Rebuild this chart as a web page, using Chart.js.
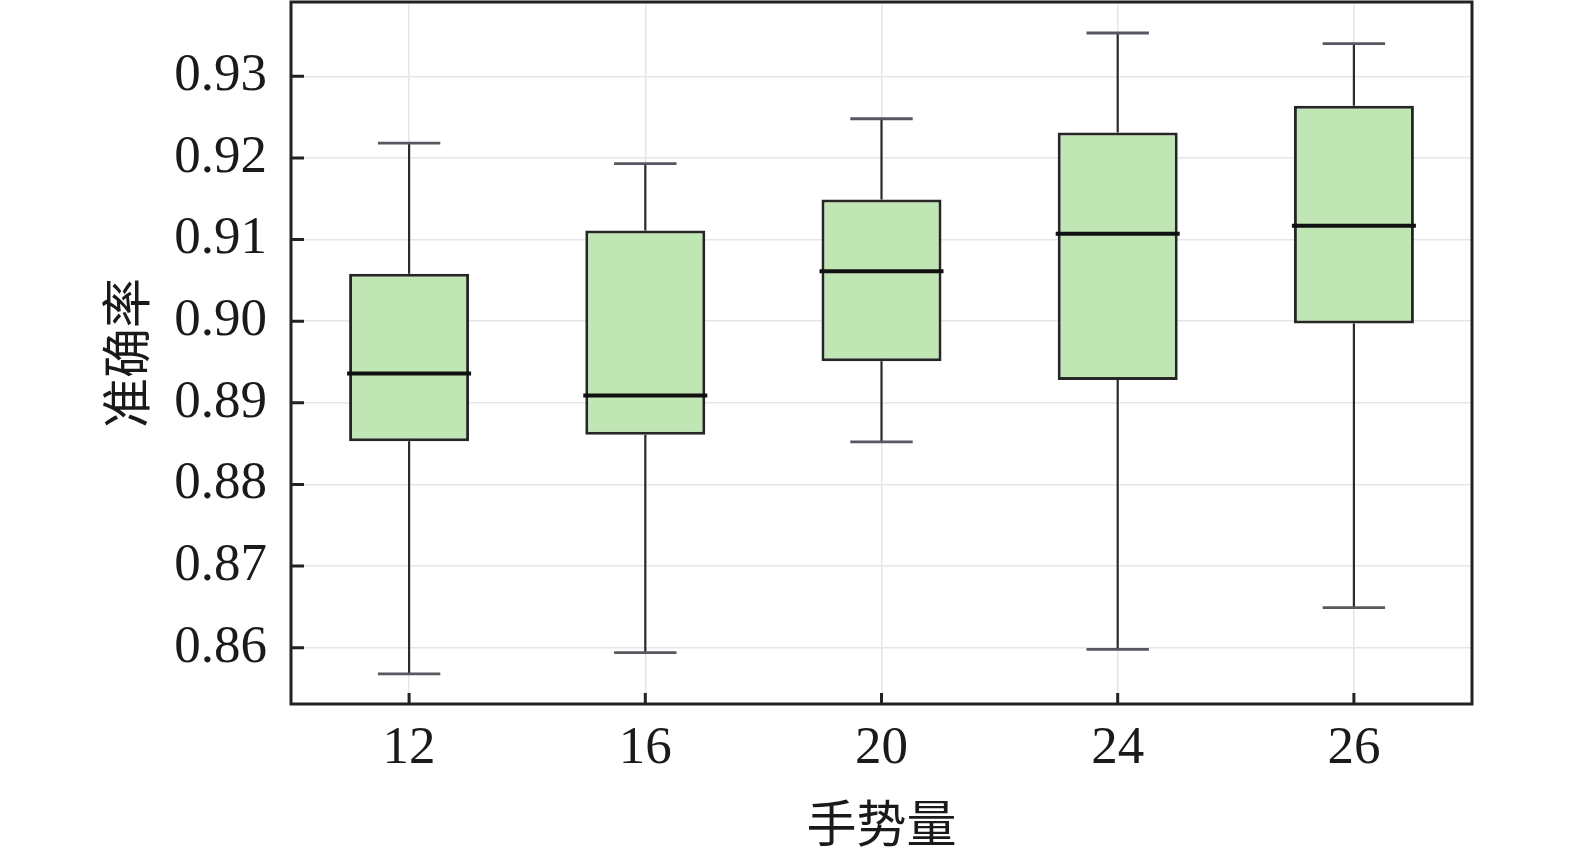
<!DOCTYPE html>
<html><head><meta charset="utf-8">
<script src="https://cdn.jsdelivr.net/npm/chart.js@4/dist/chart.umd.min.js"></script>
<style>html,body{margin:0;padding:0;background:#fff}#wrap{width:1575px;height:850px}</style>
</head><body><div id="wrap"><canvas id="c"></canvas></div>
<script>
// ---- data ----
const categories = ['12', '16', '20', '24', '26'];
const whiskerLow  = [0.8568, 0.8594, 0.8852, 0.8598, 0.8649];
const q1Values    = [0.8853, 0.8861, 0.8951, 0.8928, 0.8997];
const medians     = [0.8936, 0.8909, 0.9061, 0.9107, 0.9117];
const q3Values    = [0.9058, 0.9111, 0.9149, 0.9231, 0.9264];
const whiskerHigh = [0.9218, 0.9193, 0.9248, 0.9353, 0.9340];
const yTickValues = [0.86, 0.87, 0.88, 0.89, 0.90, 0.91, 0.92, 0.93];
const yMin = 0.8531, yMax = 0.9391;
const xTitle = '手势量';
const yTitle = '准确率';

const boxData = q1Values.map((q, i) => [q, q3Values[i]]);

const boxPlotParts = {
  id: 'boxPlotParts',
  beforeDatasetsDraw(chart) {
    const ctx = chart.ctx, y = chart.scales.y;
    const meta = chart.getDatasetMeta(0);
    ctx.save();
    meta.data.forEach((bar, i) => {
      const x = bar.x, half = bar.width * 0.26;
      ctx.strokeStyle = '#2b2b2b';
      ctx.lineWidth = 2.2;
      ctx.beginPath();
      ctx.moveTo(x, y.getPixelForValue(q3Values[i]));
      ctx.lineTo(x, y.getPixelForValue(whiskerHigh[i]));
      ctx.moveTo(x, y.getPixelForValue(q1Values[i]));
      ctx.lineTo(x, y.getPixelForValue(whiskerLow[i]));
      ctx.stroke();
      ctx.strokeStyle = '#55585e';
      ctx.lineWidth = 2.8;
      ctx.beginPath();
      const yh = y.getPixelForValue(whiskerHigh[i]);
      const yl = y.getPixelForValue(whiskerLow[i]);
      ctx.moveTo(x - half, yh); ctx.lineTo(x + half, yh);
      ctx.moveTo(x - half, yl); ctx.lineTo(x + half, yl);
      ctx.stroke();
    });
    ctx.restore();
  },
  afterDatasetsDraw(chart) {
    const ctx = chart.ctx, y = chart.scales.y;
    const meta = chart.getDatasetMeta(0);
    ctx.save();
    ctx.strokeStyle = '#111';
    ctx.lineWidth = 4;
    meta.data.forEach((bar, i) => {
      const ym = y.getPixelForValue(medians[i]);
      ctx.beginPath();
      ctx.moveTo(bar.x - bar.width / 2 - 2, ym);
      ctx.lineTo(bar.x + bar.width / 2 + 2, ym);
      ctx.stroke();
    });
    ctx.restore();
  },
  afterDraw(chart) {
    const ctx = chart.ctx, a = chart.chartArea;
    const xs = chart.scales.x, ys = chart.scales.y;
    ctx.save();
    ctx.strokeStyle = '#222';
    ctx.lineWidth = 3;
    ctx.beginPath();
    yTickValues.forEach(v => {
      const p = ys.getPixelForValue(v);
      ctx.moveTo(a.left, p); ctx.lineTo(a.left + 13, p);
    });
    categories.forEach((c, i) => {
      const p = xs.getPixelForValue(i);
      ctx.moveTo(p, a.bottom); ctx.lineTo(p, a.bottom - 11);
    });
    ctx.stroke();
    ctx.strokeRect(a.left, a.top, a.right - a.left, a.bottom - a.top);
    ctx.restore();
  }
};

new Chart(document.getElementById('c'), {
  type: 'bar',
  data: {
    labels: categories,
    datasets: [{
      data: boxData,
      backgroundColor: '#c0e6b4',
      borderColor: '#262626',
      borderWidth: 3,
      borderSkipped: false,
      barPercentage: 0.508,
      categoryPercentage: 1
    }]
  },
  options: {
    responsive: true,
    maintainAspectRatio: false,
    animation: false,
    layout: { padding: { top: 2, right: 103, left: 0, bottom: 0 } },
    plugins: { legend: { display: false }, tooltip: { enabled: false } },
    scales: {
      x: {
        offset: true,
        grid: { offset: false, color: '#e6e6e6', lineWidth: 1.5, drawTicks: false },
        border: { display: false },
        ticks: { font: { family: 'Liberation Serif', size: 53 }, color: '#1a1a1a', padding: 13, maxRotation: 0 },
        title: { display: true, text: xTitle, font: { family: 'Noto Sans CJK SC', size: 50 }, color: '#1a1a1a', padding: { top: 0, bottom: -3 } },
        afterFit(s) { s.height = 146; s.paddingLeft = 0; s.paddingRight = 0; }
      },
      y: {
        min: yMin, max: yMax,
        grid: { color: '#e6e6e6', lineWidth: 1.5, drawTicks: false },
        border: { display: false },
        ticks: {
          stepSize: 0.01, includeBounds: false,
          font: { family: 'Liberation Serif', size: 53 }, color: '#1a1a1a', padding: 24,
          callback: v => v.toFixed(2)
        },
        afterBuildTicks(s) { s.ticks = yTickValues.map(v => ({ value: v })); },
        title: { display: true, text: yTitle, font: { family: 'Noto Sans CJK SC', size: 50 }, color: '#1a1a1a', padding: { top: 96, bottom: 0 } },
        afterFit(s) { s.width = 291; s.paddingTop = 0; s.paddingBottom = 0; }
      }
    }
  },
  plugins: [boxPlotParts]
});
</script>
</body></html>
